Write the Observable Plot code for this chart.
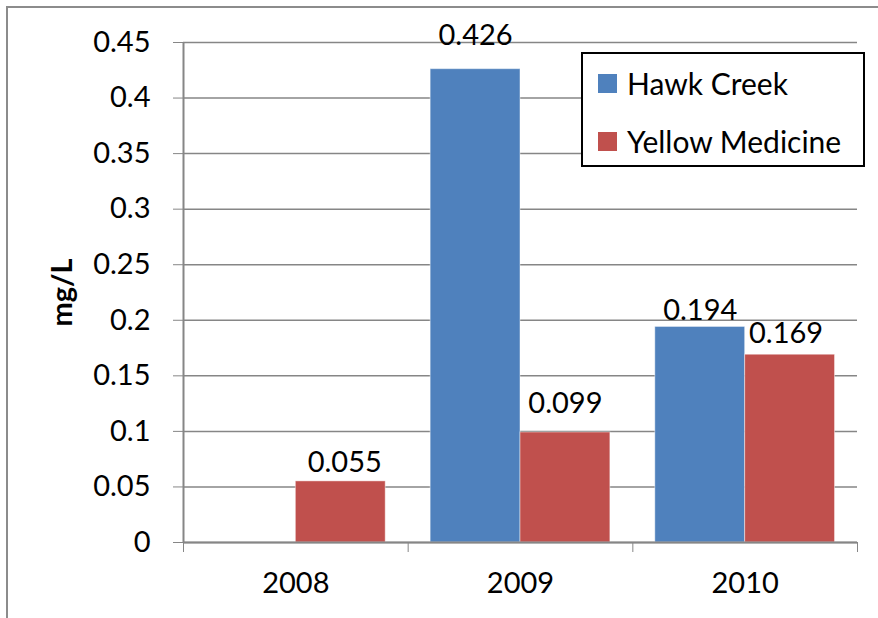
<!DOCTYPE html>
<html>
<head>
<meta charset="utf-8">
<script src="https://cdn.jsdelivr.net/npm/d3@7"></script>
<script src="https://cdn.jsdelivr.net/npm/@observablehq/plot@0.6"></script>
<style>
  html, body { margin: 0; padding: 0; background: #fff; overflow: hidden; }
  #wrap { position: relative; width: 878px; height: 618px; font-family: Lato, "Open Sans", sans-serif; }
  #border { position: absolute; left: 6px; top: 6px; width: 900px; height: 700px; border: 2px solid #8c8c8c; box-sizing: border-box; }
  #chart { position: absolute; left: 0; top: 0; }
  #chart svg text { fill: #000; }
  #legend { position: absolute; left: 581px; top: 52px; width: 284px; height: 115px; box-sizing: border-box;
            border: 2px solid #000; background: #fff; font-size: 30px; color: #000; }
  #legend .item { position: absolute; left: 15px; display: flex; align-items: center; height: 30px; }
  #legend .sw { width: 19px; height: 19px; margin-right: 10px; }
</style>
</head>
<body>
<div id="wrap">
  <div id="border"></div>
  <div id="chart"></div>
  <div id="legend"></div>
</div>
<script>
// Annual concentrations (mg/L) for the two rivers
const years = ["2008", "2009", "2010"];
const series = ["Hawk Creek", "Yellow Medicine"];
const hawkCreek = [null, 0.426, 0.194];
const yellowMedicine = [0.055, 0.099, 0.169];
const yTicks = [0, 0.05, 0.1, 0.15, 0.2, 0.25, 0.3, 0.35, 0.4, 0.45];
const colors = ["#4F81BD", "#C0504D"];

const gridColor = "#868686";

// Long-form rows: one per year × series
const rows = [];
years.forEach((year, i) => {
  [hawkCreek, yellowMedicine].forEach((values, s) => {
    rows.push({year, i, s, series: series[s], value: values[i]});
  });
});
const present = rows.filter(d => d.value != null);

// Each year occupies one unit on x; the two bars sit side by side with a gap around the pair
const barStart = d => d.i + (d.s === 0 ? 0.1 : 0.5);
const barEnd = d => d.i + (d.s === 0 ? 0.5 : 0.9);
const barMid = d => (barStart(d) + barEnd(d)) / 2;

// Small hand placements for the value labels
const labelNudge = {
  "2008|Yellow Medicine": [4, -19],
  "2009|Hawk Creek": [0, -33],
  "2009|Yellow Medicine": [0, -29],
  "2010|Hawk Creek": [0, -16],
  "2010|Yellow Medicine": [-4, -21]
};
const labelMarks = present.map(d => {
  const [dx, dy] = labelNudge[d.year + "|" + d.series] || [0, -19];
  return Plot.text([d], {x: barMid, y: "value", text: v => v.value.toFixed(3), dx, dy});
});

const chart = Plot.plot({
  width: 878,
  height: 618,
  marginLeft: 183,
  marginRight: 21,
  marginTop: 42,
  marginBottom: 76,
  style: {fontFamily: "Lato, 'Open Sans', sans-serif", fontSize: "29px", color: gridColor, background: "transparent", overflow: "visible"},
  x: {domain: [0, 3], ticks: [0, 1, 2, 3], tickSize: 10, tickFormat: () => "", label: null},
  y: {domain: [0, 0.45], ticks: yTicks, tickSize: 10, tickPadding: 23, tickFormat: d => String(+d.toFixed(2)), label: null},
  color: {domain: series, range: colors},
  marks: [
    Plot.ruleY(yTicks, {stroke: gridColor, strokeWidth: 1.5}),
    Plot.rectY(present, {x1: barStart, x2: barEnd, y: "value", fill: "series", stroke: "#fff", strokeOpacity: 0.45, strokeWidth: 1}),
    Plot.ruleY([0], {stroke: gridColor, strokeWidth: 2}),
    Plot.ruleX([0], {y1: 0, y2: 0.45, stroke: gridColor, strokeWidth: 2}),
    ...labelMarks,
    Plot.text(years, {x: (d, i) => i + 0.5, y: 0, text: d => d, dy: 41}),
    Plot.text(["mg/L"], {frameAnchor: "left", textAnchor: "middle", dx: -121, rotate: -90, fontWeight: "bold", fontSize: 29, text: d => d})
  ]
});
document.getElementById("chart").appendChild(chart);

// Legend built from the same series names and colours
const legend = d3.select("#legend");
series.forEach((name, k) => {
  const item = legend.append("div").attr("class", "item").style("top", (k === 0 ? 14 : 72) + "px");
  item.append("div").attr("class", "sw").style("background", colors[k]);
  item.append("span").text(name);
});
</script>
</body>
</html>
